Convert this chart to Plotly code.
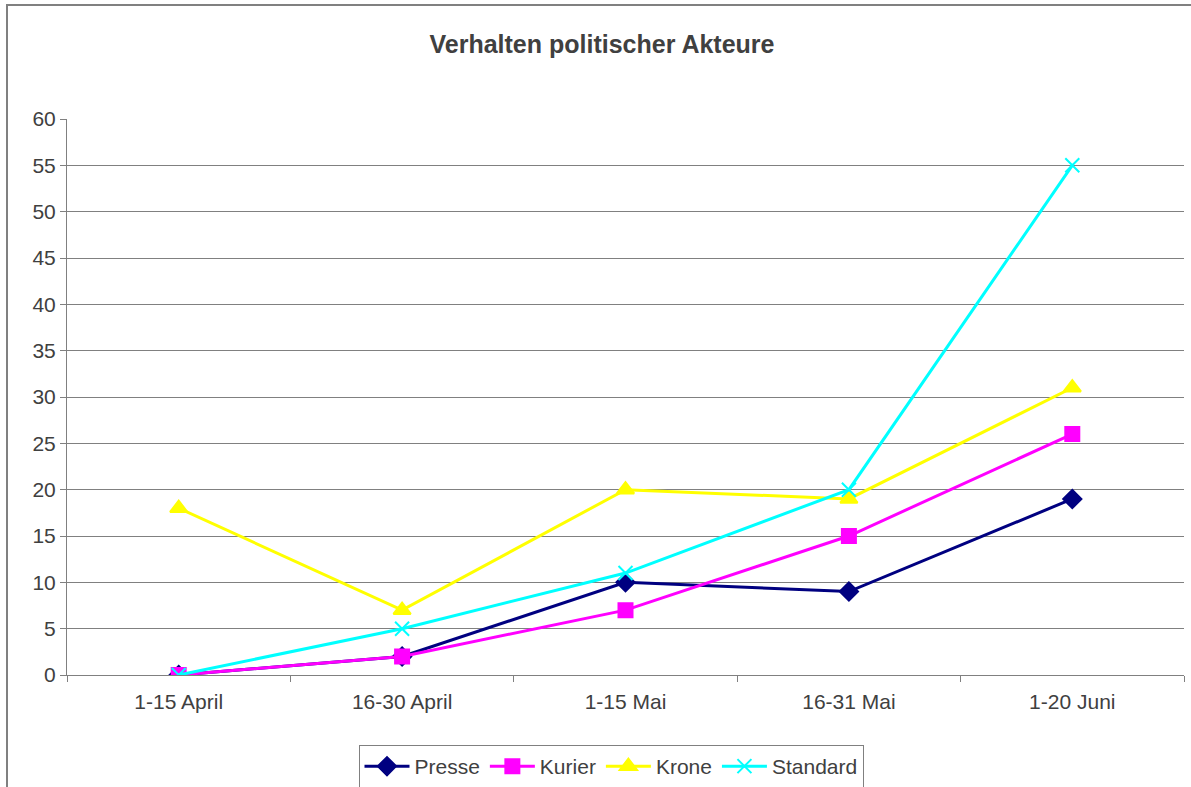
import plotly.graph_objects as go

categories = ["1-15 April", "16-30 April", "1-15 Mai", "16-31 Mai", "1-20 Juni"]
presse = [0, 2, 10, 9, 19]
kurier = [0, 2, 7, 15, 26]
krone = [18, 7, 20, 19, 31]
standard = [0, 5, 11, 20, 55]

series = [
    ("Presse", presse, "#000080", "diamond", 14),
    ("Kurier", kurier, "#FF00FF", "square", 14),
    ("Krone", krone, "#FFFF00", "triangle-up", 15),
    ("Standard", standard, "#00FFFF", "x-thin", 14),
]

fig = go.Figure()
for name, vals, col, sym, sz in series:
    fig.add_trace(go.Scatter(
        x=categories, y=vals, name=name, mode="lines+markers",
        line=dict(color=col, width=3),
        marker=dict(symbol=sym, size=sz, color=col,
                    line=dict(color=col, width=2)),
    ))

W, H = 1191, 787
L, R, T, B = 67, 7, 119, 112
pw = W - L - R
ph = H - T - B
TXT = "#404040"

fig.update_layout(
    width=W, height=H,
    margin=dict(l=L, r=R, t=T, b=B, autoexpand=False),
    paper_bgcolor="white", plot_bgcolor="white",
    font=dict(family="Liberation Sans, Arial, sans-serif", size=21, color=TXT),
    title=dict(text="<b>Verhalten politischer Akteure</b>", x=602 / W, xanchor="center",
               y=1 - 44 / H, yanchor="middle",
               font=dict(size=25, color=TXT)),
    showlegend=True,
    legend=dict(orientation="h", x=(611 - L) / pw, xanchor="center", y=(675 - 745) / ph, yanchor="top",
                bordercolor="#808080", borderwidth=1, bgcolor="white",
                font=dict(size=21, color=TXT), itemwidth=45,
                tracegroupgap=0),
    xaxis=dict(type="category", range=[-0.5, 4.5], showgrid=False,
               showline=True, linecolor="#808080", linewidth=1,
               ticks="outside", tickson="boundaries", ticklen=6, tickcolor="#808080",
               ticklabelstandoff=8,
               tickfont=dict(size=21, color=TXT)),
    yaxis=dict(range=[0, 60], dtick=5, showgrid=True, gridcolor="#808080", gridwidth=1,
               showline=True, linecolor="#808080", linewidth=1,
               ticks="outside", ticklen=6, tickcolor="#808080", zeroline=False,
               tickfont=dict(size=21, color=TXT)),
    shapes=[dict(type="rect", xref="paper", yref="paper",
                 x0=(7 - L) / pw, x1=1.2, y0=-0.3, y1=1 + (T - 5) / ph,
                 line=dict(color="#808080", width=2), fillcolor="rgba(0,0,0,0)",
                 layer="below")],
)

fig.write_html("out.html", config={"displayModeBar": False},
               post_script="document.body.style.margin='0';document.body.style.overflow='hidden';")
